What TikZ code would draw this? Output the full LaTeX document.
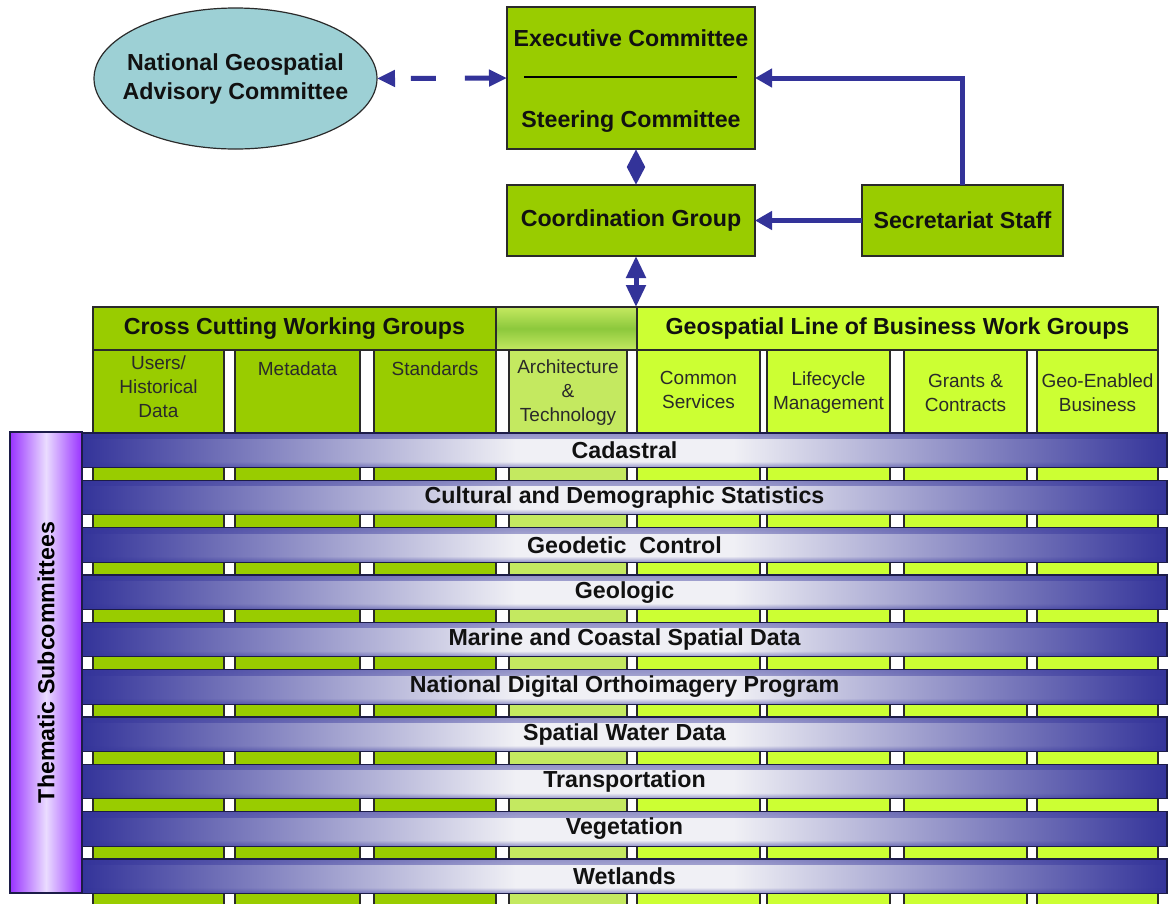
\documentclass[tikz,border=0pt]{standalone}
\usepackage{fontspec}
\setmainfont{Liberation Sans}
\usetikzlibrary{arrows.meta,shapes.geometric,fadings}

\definecolor{topgreen}{HTML}{99CC00}
\definecolor{limegreen}{HTML}{CCFF33}
\definecolor{archgreen}{HTML}{C4E960}
\definecolor{midgreen}{HTML}{8CC83C}
\definecolor{boxline}{HTML}{2A2A2A}
\definecolor{arrowblue}{HTML}{333399}
\definecolor{ovalfill}{HTML}{9DD0D5}
\definecolor{bardark}{HTML}{34349A}
\definecolor{barlight}{HTML}{F0F0F5}
\definecolor{barline}{HTML}{1C1C48}
\definecolor{thempurple}{HTML}{9933FF}
\definecolor{themlight}{HTML}{EADCFF}
\definecolor{textdark}{HTML}{111111}
\definecolor{textgray}{HTML}{2A2A2A}

% dark at both ends, nearly white across the centre
\pgfdeclarehorizontalshading{barshade}{100bp}{color(0bp)=(bardark); color(25bp)=(bardark); color(45bp)=(barlight); color(55bp)=(barlight); color(75bp)=(bardark); color(100bp)=(bardark)}

% soft darkening along the upper and lower edge of each band
\tikzfading[name=fadedown, top color=transparent!50, bottom color=transparent!100]
\tikzfading[name=fadeup, top color=transparent!100, bottom color=transparent!50]

\tikzset{
  box/.style={draw=boxline, line width=1.5pt, fill=topgreen, inner sep=0pt, outer sep=0pt},
  boldlabel/.style={font=\fontsize{23.2}{28.5}\selectfont\bfseries, text=textdark, align=center, inner sep=0pt},
  collabel/.style={font=\fontsize{19}{24}\selectfont, text=textgray, align=center, inner sep=0pt},
  colbox/.style={draw=boxline, line width=1.3pt, inner sep=0pt, outer sep=0pt, minimum height=560pt},
  conn/.style={draw=arrowblue, line width=5pt},
  band/.style={draw=barline, line width=1.2pt, shading=barshade, inner sep=0pt, outer sep=0pt,
    minimum width=1085pt, minimum height=34.5pt, boldlabel,
    path picture={
      \fill[bardark, path fading=fadedown] (path picture bounding box.north west) rectangle ([yshift=-6pt]path picture bounding box.north east);
      \fill[bardark, path fading=fadeup] ([yshift=6pt]path picture bounding box.south west) rectangle (path picture bounding box.south east);
    }},
}

\begin{document}
\begin{tikzpicture}[x=1pt,y=-1pt]
\useasboundingbox (0,0) rectangle (1168,903);
\fill[white] (0,0) rectangle (1168,903);

% ---- governance boxes ----
\node[box, minimum width=248pt, minimum height=142pt] (exec) at (631,78) {};
\node[boldlabel] (exectitle) at (631,38) {Executive Committee};
\node[boldlabel] (steertitle) at (631,122) {Steering Committee};
\draw[line width=2.5pt, black] ([xshift=17pt,yshift=1pt]exec.west) -- ([xshift=-18pt,yshift=1pt]exec.east);

\node[box, boldlabel, minimum width=248pt, minimum height=71pt] (coord) at (631,220.5) {Coordination Group};
\node[box, boldlabel, minimum width=201pt, minimum height=71pt] (sec) at (962.5,220.5) {Secretariat Staff};

\node[ellipse, draw=boxline, line width=1.2pt, fill=ovalfill, inner sep=0pt, outer sep=0pt,
      minimum width=283pt, minimum height=141pt] (ngac) at (235.5,78.5) {};
\node[boldlabel] (ngactitle) at (235.5,79) {National Geospatial\\Advisory Committee};

% ---- connectors ----
\draw[conn, dash pattern=on 0pt off 17pt on 25pt off 29pt on 60pt,
      {Triangle[length=18pt,width=16pt]}-{Triangle[length=18pt,width=16pt]}]
      (ngac.east) -- (exec.west);
\draw[conn, -{Triangle[length=17pt,width=18pt]}] (sec.north) |- (exec.east);
\draw[conn, -{Triangle[length=17pt,width=18pt]}] (sec.west) -- (coord.east);
\draw[conn, {Triangle[length=18pt,width=17pt]}-{Triangle[length=18pt,width=17pt]}]
      ([xshift=5pt]exec.south) -- ([xshift=5pt]coord.north);

% ---- work group columns ----
\node[colbox, fill=topgreen,  minimum width=131pt] (c1) at (158.5,630) {};
\node[colbox, fill=topgreen,  minimum width=125pt] (c2) at (297.5,630) {};
\node[colbox, fill=topgreen,  minimum width=122pt] (c3) at (435,630) {};
\node[colbox, fill=archgreen, minimum width=118pt] (c4) at (568,630) {};
\node[colbox, fill=limegreen, minimum width=123pt] (c5) at (698.5,630) {};
\node[colbox, fill=limegreen, minimum width=123pt] (c6) at (828.5,630) {};
\node[colbox, fill=limegreen, minimum width=123pt] (c7) at (965.5,630) {};
\node[colbox, fill=limegreen, minimum width=121pt] (c8) at (1097.5,630) {};

% ---- group headers ----
\node[box, boldlabel, minimum width=403pt, minimum height=43pt] (hdrcross) at (294.5,328.5) {Cross Cutting Working Groups};
\node[box, top color=archgreen, bottom color=archgreen, middle color=midgreen,
      minimum width=141pt, minimum height=43pt] (hdrmid) at (566.5,328.5) {};
\node[box, boldlabel, fill=limegreen, minimum width=521pt, minimum height=43pt] (hdrgeo) at (897.5,328.5) {Geospatial Line of Business Work Groups};

\draw[conn, {Triangle[length=22pt,width=19pt]}-{Triangle[length=22pt,width=19pt]}]
      ([xshift=5pt]coord.south) -- ([xshift=5pt]coord.south |- hdrmid.north);

% ---- column titles ----
\node[collabel] (t1) at (158.5,387) {Users/\\Historical\\Data};
\node[collabel] (t2) at (297.5,369) {Metadata};
\node[collabel] (t3) at (435,369) {Standards};
\node[collabel] (t4) at (568,393) {Architecture\\\&\\Technology};
\node[collabel] (t5) at (698.5,390) {Common\\Services};
\node[collabel] (t6) at (828.5,393) {Lifecycle\\Management};
\node[collabel] (t7) at (965.5,393) {Grants \&\\Contracts};
\node[collabel] (t8) at (1097.5,393) {Geo-Enabled\\Business};

% ---- thematic subcommittee bands ----
\foreach \t [count=\i from 0] in {{Cadastral},{Cultural and Demographic Statistics},{Geodetic\ \ Control},{Geologic},{Marine and Coastal Spatial Data},{National Digital Orthoimagery Program},{Spatial Water Data},{Transportation},{Vegetation},{Wetlands}}
  \node[band] (band\i) at (624.5,{450.25+47.33*\i}) {\t};

\node[draw=barline, line width=1.2pt, inner sep=0pt, outer sep=0pt,
      left color=thempurple, right color=thempurple, middle color=themlight,
      minimum width=72pt, minimum height=461pt] (them) at (46,662.5) {};
\node[rotate=90, boldlabel, text=black] (themlabel) at (them.center) {Thematic Subcommittees};

\end{tikzpicture}
\end{document}
